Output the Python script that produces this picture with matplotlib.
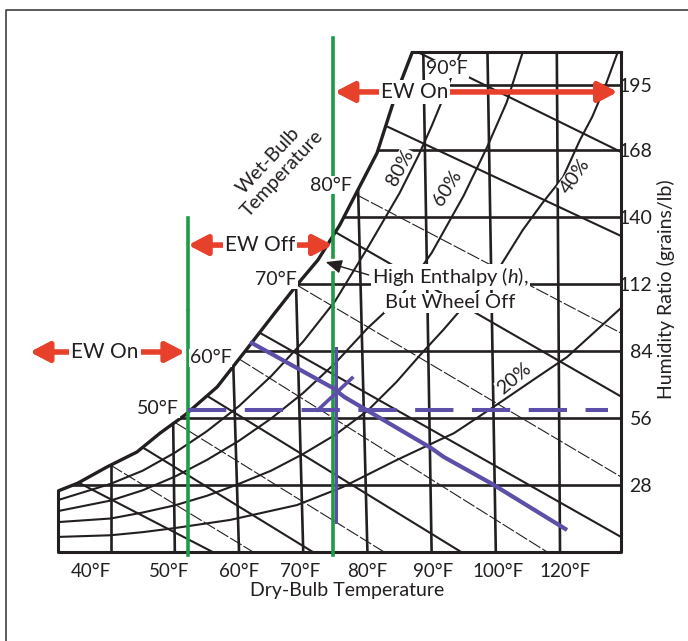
import numpy as np
import matplotlib
matplotlib.use('Agg')
import matplotlib.pyplot as plt
from matplotlib.patches import Polygon, FancyArrowPatch
from matplotlib.lines import Line2D

plt.rcParams['font.family'] = ['Lato', 'DejaVu Sans']
plt.rcParams['mathtext.fontset'] = 'custom'
plt.rcParams['mathtext.rm'] = 'Lato'
plt.rcParams['mathtext.it'] = 'Lato:italic'

ink = '#231f20'
red = '#e8412b'
green = '#1f9a45'
purple = '#5b4fa9'

# chart box: dry-bulb (F) by humidity ratio (grains/lb)
t_min, t_max = 31.8, 119.5
w_max = 209

# saturation curve
sat_t = [31.8, 34.9, 39.4, 44.1, 47.7, 51.6, 56.6, 61.7, 65.3, 69.0, 72.3, 75.7, 78.1, 81.5, 84.3, 87.0]
sat_w = [25.5, 28.8, 35.5, 41.8, 49.7, 57.3, 69.0, 86.5, 99.0, 111.6, 122.1, 136.7, 149.2, 166.8, 190.2, 209.0]

# relative humidity curves
rh80_t = [31.8, 40, 45, 50, 55, 60, 65, 70, 75, 80, 85, 88, 90, 92, 94, 94.6]
rh80_w = [21.7, 28.5, 34, 41.5, 50.5, 61, 73.5, 88, 105, 127, 150, 166, 178, 191, 205, 209]
rh60_t = [31.8, 40, 45, 50, 55, 60, 65, 70, 75, 80, 85, 90, 95, 98.6, 101.7, 104.2]
rh60_w = [17.1, 21.5, 25.8, 31.5, 38.5, 46.5, 55.8, 66.5, 79, 93.5, 106, 125, 149, 169, 188, 209]
rh40_t = [31.8, 40, 45, 50, 55, 60, 65, 70, 75, 80, 84.5, 88.2, 91.8, 94.9, 100.6, 104.2, 107.3, 110.5, 113.1, 115.0, 117.0, 119.0]
rh40_w = [12.5, 14.0, 16.5, 19.5, 23.5, 28.5, 34, 41, 49, 59, 71, 82.3, 92.8, 102.4, 119.1, 134.6, 146, 156.8, 172.2, 181.8, 194.4, 209]
rh20_t = [31.8, 40, 45, 50, 58.6, 69.0, 76.2, 84.6, 93.5, 99.4, 105.8, 111.1, 119.5]
rh20_w = [6.3, 7.0, 8.3, 10.0, 13.4, 19.6, 27.2, 38.5, 49.7, 60.2, 71.9, 81.5, 102]

# dry-bulb lines (slightly tilted): temperature at bottom and at top edge
db_bottom = [40, 50, 60, 70, 80, 90, 100, 110]
db_top = [40, 49.0, 57.6, 67.9, 78.0, 88.7, 98.7, 109.5]

# humidity ratio lines
w_lines = [28, 56, 84, 112, 140, 168, 195]

# wet-bulb lines: start on saturation, end on edge
wb_thick_t0 = [35, 45, 55, 63, 75, 83.2, 87.8]
wb_thick_w0 = [29.0, 43.7, 65.3, 92, 133.7, 177.7, 209]
wb_thick_t1 = [55.9, 71.5, 94.6, 119.5, 119.5, 119.5, 119.5]
wb_thick_w1 = [0, 0, 0, 6.3, 65, 132.1, 167.2]
wb_thin_t0 = [40, 50, 60, 69, 78.4]
wb_thin_w0 = [36.3, 54.2, 80.7, 111.6, 149.2]
wb_thin_t1 = [62.2, 82.6, 108, 119.5, 119.5]
wb_thin_w1 = [0, 0, 0, 31.4, 91.5]

# process lines
proc_t = [61.7, 74.6, 76.4, 89.9, 91.9, 99.2, 111.1]
proc_w = [87.8, 68.6, 64.8, 43.5, 39.7, 28.8, 9.2]
dew_w = 59.4
dew_t = [52.05, 117.5]
vert_t = 75.1
vert_w = [12.5, 85.3]
short_t = [72.3, 77.6]
short_w = [59.4, 72.7]

# enthalpy wheel limits
wheel_left = 52.05
wheel_right = 74.6

x_tick_pos = [36.9, 49.1, 60.0, 69.5, 79.9, 90.2, 100.3, 110.8]
x_tick_labels = ['40°F', '50°F', '60°F', '70°F', '80°F', '90°F', '100°F', '120°F']

fig = plt.figure(figsize=(6.88, 6.41), dpi=100)
ax = fig.add_axes([58/688, 89/641, 563/688, 500/641])
ax.set_xlim(t_min, t_max)
ax.set_ylim(0, w_max)
for s in ax.spines.values():
    s.set_visible(False)

region = Polygon(np.column_stack([[t_min] + sat_t + [t_max, t_max],
                                  [0] + sat_w + [w_max, 0]]),
                 closed=True, transform=ax.transData, facecolor='none', edgecolor='none')
ax.add_patch(region)

def clipped(xs, ys, **kw):
    ln, = ax.plot(xs, ys, color=ink, **kw)
    ln.set_clip_path(region)
    return ln

for tb, tt in zip(db_bottom, db_top):
    clipped([tb, tt], [0, w_max], lw=1.9)
for w in w_lines:
    clipped([t_min, t_max], [w, w], lw=1.9)
for xs, ys in [(rh80_t, rh80_w), (rh60_t, rh60_w), (rh40_t, rh40_w), (rh20_t, rh20_w)]:
    clipped(xs, ys, lw=1.5)
for a, b, c, d in zip(wb_thick_t0, wb_thick_w0, wb_thick_t1, wb_thick_w1):
    clipped([a, c], [b, d], lw=1.5)
for a, b, c, d in zip(wb_thin_t0, wb_thin_w0, wb_thin_t1, wb_thin_w1):
    clipped([a, c], [b, d], lw=0.8, ls=(0, (12, 2)))

# outline
ax.plot(sat_t, sat_w, color=ink, lw=2.4, clip_on=False, solid_capstyle='butt')
ax.plot([t_min, t_min, t_max, t_max], [sat_w[0], 0, 0, w_max], color=ink, lw=2.2, clip_on=False)
ax.plot([sat_t[-1], t_max], [w_max, w_max], color=ink, lw=2.2, clip_on=False)

# green wheel lines
ax.plot([wheel_left, wheel_left], [-1.2, 100.6], color=green, lw=2.6, clip_on=False, zorder=4)
ax.plot([wheel_left, wheel_left], [101.6, 139.6], color=green, lw=2.6, clip_on=False, zorder=4)
ax.plot([wheel_right, wheel_right], [-1.2, 116.6], color=green, lw=2.6, clip_on=False, zorder=4)
ax.plot([wheel_right, wheel_right], [123.3, 214.9], color=green, lw=2.6, clip_on=False, zorder=4)

# purple process lines
ax.plot(proc_t, proc_w, color=purple, lw=3, zorder=5, solid_capstyle='butt')
ax.plot([vert_t, vert_t], vert_w, color=purple, lw=2.2, zorder=5)
ax.plot(short_t, short_w, color=purple, lw=2.6, zorder=5)
ax.plot(dew_t, [dew_w, dew_w], color=purple, lw=2.9, ls=(0, (9.5, 4.6)), zorder=5)

def ew_arrow(t0, t1, w, label, tx):
    arr = FancyArrowPatch((t0, w), (t1, w), arrowstyle='<|-|>,head_length=1.15,head_width=0.6',
                          mutation_scale=10, lw=4, color=red, shrinkA=0, shrinkB=0, zorder=6)
    arr.set_clip_on(False)
    ax.add_patch(arr)
    ax.text(tx, w, label, ha='center', va='center', fontsize=15, color=ink, zorder=7,
            bbox=dict(facecolor='white', edgecolor='none', pad=1.5))

ew_arrow(27.4, 51.6, 83.6, 'EW On', 39.1)
ew_arrow(wheel_left, wheel_right, 128.3, 'EW Off', 63.3)
ew_arrow(74.9, 119.0, 192.3, 'EW On', 87.3)

wb_labels = [('90°F', 92.4, 201.9), ('80°F', 74.3, 153.4), ('70°F', 65.8, 113.7),
             ('60°F', 55.6, 81.1), ('50°F', 47.4, 59.8)]
for s, t, w in wb_labels:
    ax.text(t, w, s, ha='center', va='center', fontsize=14, color=ink, zorder=8,
            bbox=dict(facecolor='white', edgecolor='none', pad=0.5), clip_on=False)

rh_labels = [('80%', 85.1, 160.9, 62), ('60%', 92.5, 152.2, 58),
             ('40%', 112.3, 157.2, 55), ('20%', 102.8, 72.7, 40)]
for s, t, w, r in rh_labels:
    ax.text(t, w, s, ha='center', va='center', rotation=r, fontsize=14, color=ink, zorder=8,
            rotation_mode='anchor', bbox=dict(facecolor='white', edgecolor='none', pad=0.3))

ax.text(65.6, 160.9, 'Wet-Bulb\nTemperature', ha='center', va='center', rotation=47,
        fontsize=14, color=ink, linespacing=1.2, rotation_mode='anchor', zorder=8)

ax.text(92.9, 115, 'High Enthalpy ($h$),', ha='center', va='center', fontsize=14.5, color=ink,
        zorder=8, bbox=dict(facecolor='white', edgecolor='none', pad=0.8))
ax.text(92.9, 104.1, 'But Wheel Off', ha='center', va='center', fontsize=14.5, color=ink,
        zorder=8, bbox=dict(facecolor='white', edgecolor='none', pad=0.8))
ax.annotate('', xy=(73.5, 121.2), xytext=(80.2, 115.8),
            arrowprops=dict(arrowstyle='-|>,head_length=0.7,head_width=0.3', mutation_scale=14,
                            lw=1, color=ink, shrinkA=0, shrinkB=0), zorder=8)

ax.set_xticks(x_tick_pos, x_tick_labels)
ax.set_yticks(w_lines, [str(v) for v in w_lines])
ax.yaxis.tick_right()
ax.tick_params(axis='both', length=0, labelsize=13.5, colors=ink)
ax.tick_params(axis='x', pad=8)
ax.tick_params(axis='y', pad=22.5, labelsize=14)
plt.setp(ax.get_yticklabels(), ha='right')

ax.set_xlabel('Dry-Bulb Temperature', fontsize=14, color=ink)
ax.xaxis.set_label_coords(0.513, -0.06)
ax.set_ylabel('Humidity Ratio (grains/lb)', fontsize=14, color=ink)
ax.yaxis.set_label_position('right')
ax.yaxis.set_label_coords(1.064, 0.526)

fig.add_artist(Line2D([6/688, 6/688, 1.0], [0, 1 - 10/641, 1 - 10/641],
                      transform=fig.transFigure, color='#4d4d4d', lw=1.3))

fig.savefig('out.png', dpi=100)
